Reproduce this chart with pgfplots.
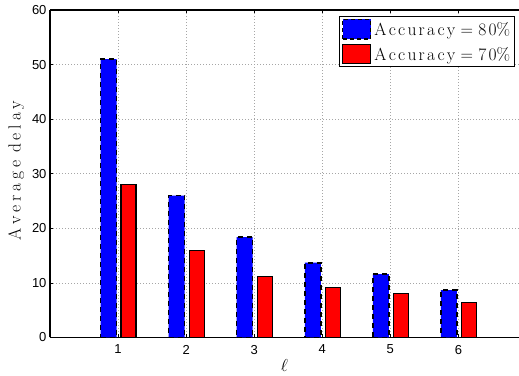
\documentclass[border=0pt]{standalone}
\usepackage{pgfplots}
\pgfplotsset{compat=1.18}
\usepackage{fontspec}
\newfontfamily\helv{Liberation Sans}
\def\spaced#1{\spacedaux#1\relax\unkern}
\def\spacedaux#1{\ifx#1\relax\else#1\kern\spk\expandafter\spacedaux\fi}
\def\spk{0.1em}
\begin{document}
\begin{tikzpicture}
\begin{axis}[
  name=ax,
  width=469pt, height=327.5pt, scale only axis,
  xmin=0, xmax=6.89, ymin=0, ymax=60,
  axis x line*=box, axis y line*=left,
  axis line style={line width=1.2pt, black},
  xtick={1,2,3,4,5,6}, ytick={0,10,20,30,40,50,60},
  tick align=inside, major tick length=3pt,
  tick style={black, line width=0.5pt},
  /pgf/number format/assume math mode=true,
  ticklabel style={font=\helv\fontsize{13}{15}\selectfont},
  xticklabel style={yshift=-4pt},
  xmajorgrids, ymajorgrids,
  grid style={dash pattern=on 0.7pt off 2.3pt, gray!70, line width=0.6pt},
  xlabel={$\ell$},
  ylabel={\def\spk{0.22em}\spaced{Average}\hspace{0.45em}\spaced{delay}},
  label style={font=\fontsize{17.5}{19}\selectfont},
  xlabel style={font=\fontsize{18}{20}\selectfont, yshift=2pt},
  ylabel style={yshift=1pt, xshift=3pt},
  legend style={at={(0.992,0.983)}, anchor=north east, draw=black, line width=1pt,
    font=\fontsize{17.5}{19}\selectfont, row sep=4pt, inner xsep=2.5pt, inner ysep=2.5pt,
    legend cell align=left},
]
\addplot[forget plot, ybar, bar width=0.235, bar shift=-0.14, fill=blue, draw=black, dash pattern=on 5pt off 4pt, line width=1.6pt]
  coordinates {(1,51) (2,26) (3,18.4) (4,13.7) (5,11.6) (6,8.7)};
\addplot[forget plot, ybar, bar width=0.22, bar shift=0.155, fill=red, draw=black, line width=1.3pt]
  coordinates {(1,28) (2,16) (3,11.2) (4,9.2) (5,8) (6,6.4)};
\addlegendimage{legend image code/.code={\draw[fill=blue, draw=black, line width=1.6pt, dash pattern=on 4pt off 3pt] (0pt,-9.5pt) rectangle (28pt,10pt);}}
\addlegendentry{\hspace{1pt}\def\spk{0.13em}\spaced{Accuracy}\ $=$\ \spaced{80}\%}
\addlegendimage{legend image code/.code={\draw[fill=red, draw=black, line width=1.3pt] (0pt,-9.5pt) rectangle (28pt,10pt);}}
\addlegendentry{\hspace{1pt}\def\spk{0.13em}\spaced{Accuracy}\ $=$\ \spaced{70}\%}
\end{axis}
\pgfresetboundingbox
\path[use as bounding box] ([shift={(-50pt,-38pt)}]ax.south west) rectangle ([shift={(0pt,10pt)}]ax.north east);
\end{tikzpicture}
\end{document}
